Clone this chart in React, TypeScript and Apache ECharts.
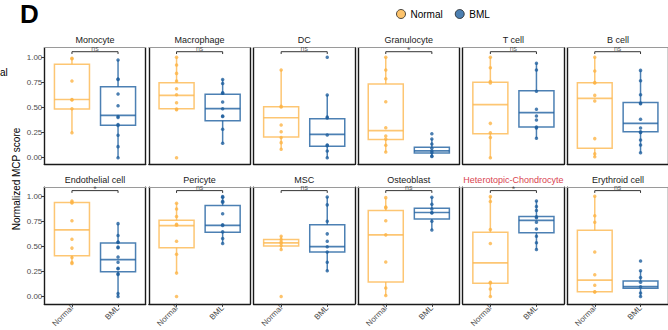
import React, { useEffect, useRef } from "react";
import * as echarts from "echarts";

const cellTypes = [
  "Monocyte", "Macrophage", "DC", "Granulocyte", "T cell", "B cell",
  "Endothelial cell", "Pericyte", "MSC", "Osteoblast", "Heterotopic-Chondrocyte", "Erythroid cell",
];
const groups = ["Normal", "BML"];
const significance = ["ns", "ns", "ns", "*", "ns", "ns", "*", "ns", "ns", "ns", "*", "ns"];
const yTicks = [0, 0.25, 0.5, 0.75, 1];

// box stats: [lower whisker, Q1, median, Q3, upper whisker]
const normalBoxes = [
  [0.25, 0.485, 0.58, 0.93, 0.99],
  [0.48, 0.488, 0.621, 0.747, 1.0],
  [0.084, 0.206, 0.398, 0.508, 0.873],
  [0.057, 0.18, 0.269, 0.734, 1.0],
  [0.0, 0.239, 0.528, 0.751, 1.0],
  [0.01, 0.093, 0.591, 0.747, 1.0],
  [0.335, 0.408, 0.664, 0.937, 0.953],
  [0.234, 0.487, 0.707, 0.76, 0.931],
  [0.47, 0.503, 0.536, 0.569, 0.602],
  [0.01, 0.145, 0.615, 0.858, 0.986],
  [0.0, 0.132, 0.335, 0.641, 1.0],
  [0.049, 0.049, 0.165, 0.661, 1.0],
];
const bmlBoxes = [
  [0.0, 0.323, 0.422, 0.707, 0.973],
  [0.143, 0.369, 0.488, 0.631, 0.78],
  [0.0, 0.113, 0.233, 0.389, 0.625],
  [0.014, 0.047, 0.067, 0.103, 0.186],
  [0.193, 0.306, 0.448, 0.667, 0.94],
  [0.05, 0.259, 0.342, 0.551, 0.87],
  [0.0, 0.247, 0.369, 0.533, 0.727],
  [0.53, 0.641, 0.71, 0.907, 0.996],
  [0.257, 0.444, 0.497, 0.717, 0.993],
  [0.664, 0.773, 0.838, 0.881, 0.99],
  [0.47, 0.635, 0.76, 0.799, 0.953],
  [0.0, 0.083, 0.099, 0.155, 0.257],
];
const normalPoints = [
  [0.99, 0.985, 0.764, 0.58, 0.575, 0.488, 0.249],
  [1.0, 0.923, 0.84, 0.764, 0.687, 0.628, 0.548, 0.485, 0.478, 0.0],
  [0.873, 0.512, 0.506, 0.326, 0.259, 0.2, 0.15, 0.084],
  [1.0, 0.873, 0.787, 0.558, 0.299, 0.216, 0.185, 0.123, 0.057],
  [1.0, 0.896, 0.76, 0.744, 0.342, 0.249, 0.2, 0.0],
  [1.0, 0.864, 0.75, 0.744, 0.621, 0.565, 0.19, 0.04, 0.01],
  [0.953, 0.94, 0.933, 0.756, 0.572, 0.483, 0.389, 0.34, 0.33],
  [0.931, 0.872, 0.799, 0.72, 0.712, 0.552, 0.421, 0.234, 0.0],
  [0.602, 0.569, 0.545, 0.535, 0.51, 0.47, 0.0],
  [0.986, 0.892, 0.884, 0.756, 0.615, 0.345, 0.086, 0.01],
  [0.996, 0.947, 0.668, 0.53, 0.142, 0.135, 0.076, 0.0],
  [1.0, 0.806, 0.74, 0.444, 0.217, 0.112, 0.049, 0.045],
];
const bmlPoints = [
  [0.973, 0.785, 0.78, 0.634, 0.518, 0.41, 0.4, 0.33, 0.32, 0.223, 0.11, 0.0],
  [0.78, 0.74, 0.648, 0.642, 0.555, 0.488, 0.415, 0.41, 0.283, 0.143],
  [1.0, 0.625, 0.405, 0.395, 0.226, 0.126, 0.12, 0.067, 0.0],
  [0.239, 0.186, 0.136, 0.093, 0.067, 0.05, 0.016, 0.012],
  [0.94, 0.873, 0.661, 0.482, 0.415, 0.375, 0.305, 0.295, 0.193],
  [0.87, 0.767, 0.628, 0.545, 0.538, 0.382, 0.296, 0.257, 0.251, 0.176, 0.126, 0.05],
  [0.727, 0.608, 0.545, 0.539, 0.493, 0.487, 0.394, 0.342, 0.283, 0.277, 0.227, 0.221, 0.03, 0.0],
  [0.996, 0.99, 0.95, 0.94, 0.825, 0.715, 0.709, 0.645, 0.579, 0.53],
  [0.993, 0.914, 0.75, 0.625, 0.552, 0.497, 0.444, 0.342, 0.257],
  [0.99, 0.921, 0.872, 0.838, 0.832, 0.75, 0.664],
  [0.953, 0.898, 0.858, 0.795, 0.785, 0.74, 0.674, 0.602, 0.536, 0.47],
  [0.355, 0.257, 0.191, 0.142, 0.099, 0.036, 0.0],
];
const bracketY = 1.056;
const bracketTip = 1.033;

const FONT = "'Liberation Sans', Arial, Helvetica, sans-serif";
const pointColors = ["#FDB446", "#1F5F9E"];
const boxColors = ["rgba(253,184,80,0.8)", "rgba(31,96,160,0.8)"];

export default function App() {
  const ref = useRef<HTMLDivElement>(null);
  useEffect(() => {
    if (!ref.current) return;
    const chart = echarts.init(ref.current, null, { renderer: "svg" });

    const rowTop = [47.7, 187.3];
    const rowH = [116.6, 117.7];
    const rowMin = [-0.066, -0.072];
    const rowMax = [1.096, 1.089];
    const colLeft0 = 44.3;
    const colStep = 104.6;
    const panelW = 101.4;

    const grids: any[] = [];
    const xAxes: any[] = [];
    const yAxes: any[] = [];
    const series: any[] = [];
    const graphics: any[] = [];

    cellTypes.forEach((name, i) => {
      const r = Math.floor(i / 6);
      const c = i % 6;
      const left = colLeft0 + c * colStep;
      grids.push({ left, top: rowTop[r], width: panelW, height: rowH[r] });
      const bottomRow = r === 1;
      xAxes.push({
        type: "value", gridIndex: i, min: 0.4, max: 2.6, position: "bottom",
        splitLine: { show: false },
        axisLine: { show: true, onZero: false, lineStyle: { color: "#1a1a1a", width: 1.4 } },
        axisTick: { show: bottomRow, customValues: [1, 2], length: 3, lineStyle: { color: "#333", width: 1 } },
        axisLabel: {
          show: bottomRow, customValues: [1, 2], rotate: 45, fontSize: 8, color: "#4D4D4D",
          fontFamily: FONT, margin: 3,
          formatter: (v: number) => groups[Math.round(v) - 1] || "",
        },
      });
      xAxes.push({
        type: "value", gridIndex: i, min: 0.4, max: 2.6, position: "top",
        splitLine: { show: false },
        axisLine: { show: true, onZero: false, lineStyle: { color: "#9a9a9a", width: 1 } },
        axisTick: { show: false }, axisLabel: { show: false },
      });
      const firstCol = c === 0;
      yAxes.push({
        type: "value", gridIndex: i, min: rowMin[r], max: rowMax[r], position: "left",
        splitLine: { show: false },
        axisLine: { show: true, onZero: false, lineStyle: { color: "#1a1a1a", width: 1.4 } },
        axisTick: { show: firstCol, customValues: yTicks, length: 3, lineStyle: { color: "#333" } },
        axisLabel: {
          show: firstCol, customValues: yTicks, fontSize: 8, color: "#4D4D4D", fontFamily: FONT, margin: 2,
          formatter: (v: number) => v.toFixed(2),
        },
      });
      yAxes.push({
        type: "value", gridIndex: i, min: rowMin[r], max: rowMax[r], position: "right",
        splitLine: { show: false },
        axisLine: { show: true, onZero: false, lineStyle: { color: "#1a1a1a", width: 1.4 } },
        axisTick: { show: false }, axisLabel: { show: false },
      });
      const xi = 2 * i;
      const yi = 2 * i;
      series.push({
        type: "custom", xAxisIndex: xi, yAxisIndex: yi, clip: false, silent: true, z: 2,
        encode: { x: 0, y: [1, 2, 3, 4, 5] },
        data: [
          [1, ...normalBoxes[i], 0],
          [2, ...bmlBoxes[i], 1],
        ],
        renderItem: (params: any, api: any) => {
          const x = api.value(0);
          const g = api.value(6);
          const half = 0.38;
          const tl = api.coord([x - half, api.value(4)]);
          const br = api.coord([x + half, api.value(2)]);
          const pMin = api.coord([x, api.value(1)]);
          const pMax = api.coord([x, api.value(5)]);
          const pMed = api.coord([x, api.value(3)]);
          const col = boxColors[g];
          const ls = { stroke: col, lineWidth: 1.5, fill: null };
          return {
            type: "group",
            children: [
              { type: "line", shape: { x1: pMax[0], y1: pMax[1], x2: pMax[0], y2: tl[1] }, style: ls },
              { type: "line", shape: { x1: pMin[0], y1: br[1], x2: pMin[0], y2: pMin[1] }, style: ls },
              {
                type: "rect",
                shape: { x: tl[0], y: tl[1], width: br[0] - tl[0], height: br[1] - tl[1] },
                style: { stroke: col, lineWidth: 1.5, fill: "rgba(255,255,255,0)" },
              },
              { type: "line", shape: { x1: tl[0], y1: pMed[1], x2: br[0], y2: pMed[1] }, style: { stroke: col, lineWidth: 1.7 } },
            ],
          };
        },
      });
      series.push({
        name: "Normal", type: "scatter", xAxisIndex: xi, yAxisIndex: yi, z: 3,
        symbolSize: 3.5, itemStyle: { color: pointColors[0] },
        data: normalPoints[i].map((v) => [1, v]),
      });
      series.push({
        name: "BML", type: "scatter", xAxisIndex: xi, yAxisIndex: yi, z: 3,
        symbolSize: 3.5, itemStyle: { color: pointColors[1] },
        data: bmlPoints[i].map((v) => [2, v]),
      });
      series.push({
        type: "line", xAxisIndex: xi, yAxisIndex: yi, symbol: "none", silent: true, z: 4,
        lineStyle: { color: "#333", width: 1 },
        data: [[1, bracketTip], [1, bracketY], [2, bracketY], [2, bracketTip]],
      });
      const isStar = significance[i] === "*";
      series.push({
        type: "scatter", xAxisIndex: xi, yAxisIndex: yi, symbolSize: 0, silent: true, z: 5,
        data: [[1.5, bracketY]],
        label: {
          show: true, position: "top", distance: isStar ? -3 : 0,
          formatter: () => significance[i],
          fontSize: isStar ? 9 : 7, color: "#333", fontFamily: FONT,
        },
      });
      graphics.push({
        type: "text", x: left + panelW / 2, y: rowTop[r] - 7.7,
        style: {
          text: name, textAlign: "center", textVerticalAlign: "middle", fontSize: 9, fontFamily: FONT,
          fill: name === "Heterotopic-Chondrocyte" ? "#D94350" : "#1A1A1A",
        },
      });
    });

    graphics.push({
      type: "text", x: 20, y: 1,
      style: { text: "D", fontSize: 26, fontWeight: "bold", fontFamily: FONT, fill: "#000", textVerticalAlign: "top" },
    });
    graphics.push({
      type: "text", x: 16, y: 179, rotation: Math.PI / 2,
      style: { text: "Normalized MCP score", fontSize: 10, fontFamily: FONT, fill: "#000", textAlign: "center", textVerticalAlign: "middle" },
    });
    graphics.push({
      type: "text", x: 0, y: 72,
      style: { text: "al", fontSize: 10, fontFamily: FONT, fill: "#000", textAlign: "left", textVerticalAlign: "middle" },
    });

    chart.setOption({
      animation: false,
      backgroundColor: "#fff",
      legend: {
        left: 391, top: 4, icon: "circle", itemWidth: 9, itemHeight: 9, itemGap: 12,
        textStyle: { fontSize: 10, fontFamily: FONT, color: "#000" },
        data: [
          { name: "Normal", itemStyle: { color: pointColors[0], borderColor: "#222", borderWidth: 1 } },
          { name: "BML", itemStyle: { color: pointColors[1], borderColor: "#222", borderWidth: 1 } },
        ],
        selectedMode: false,
      },
      grid: grids,
      xAxis: xAxes,
      yAxis: yAxes,
      series,
      graphic: graphics,
    });
    return () => chart.dispose();
  }, []);
  return <div ref={ref} style={{ width: 668, height: 330, position: "absolute", left: 0, top: 0 }} />;
}
